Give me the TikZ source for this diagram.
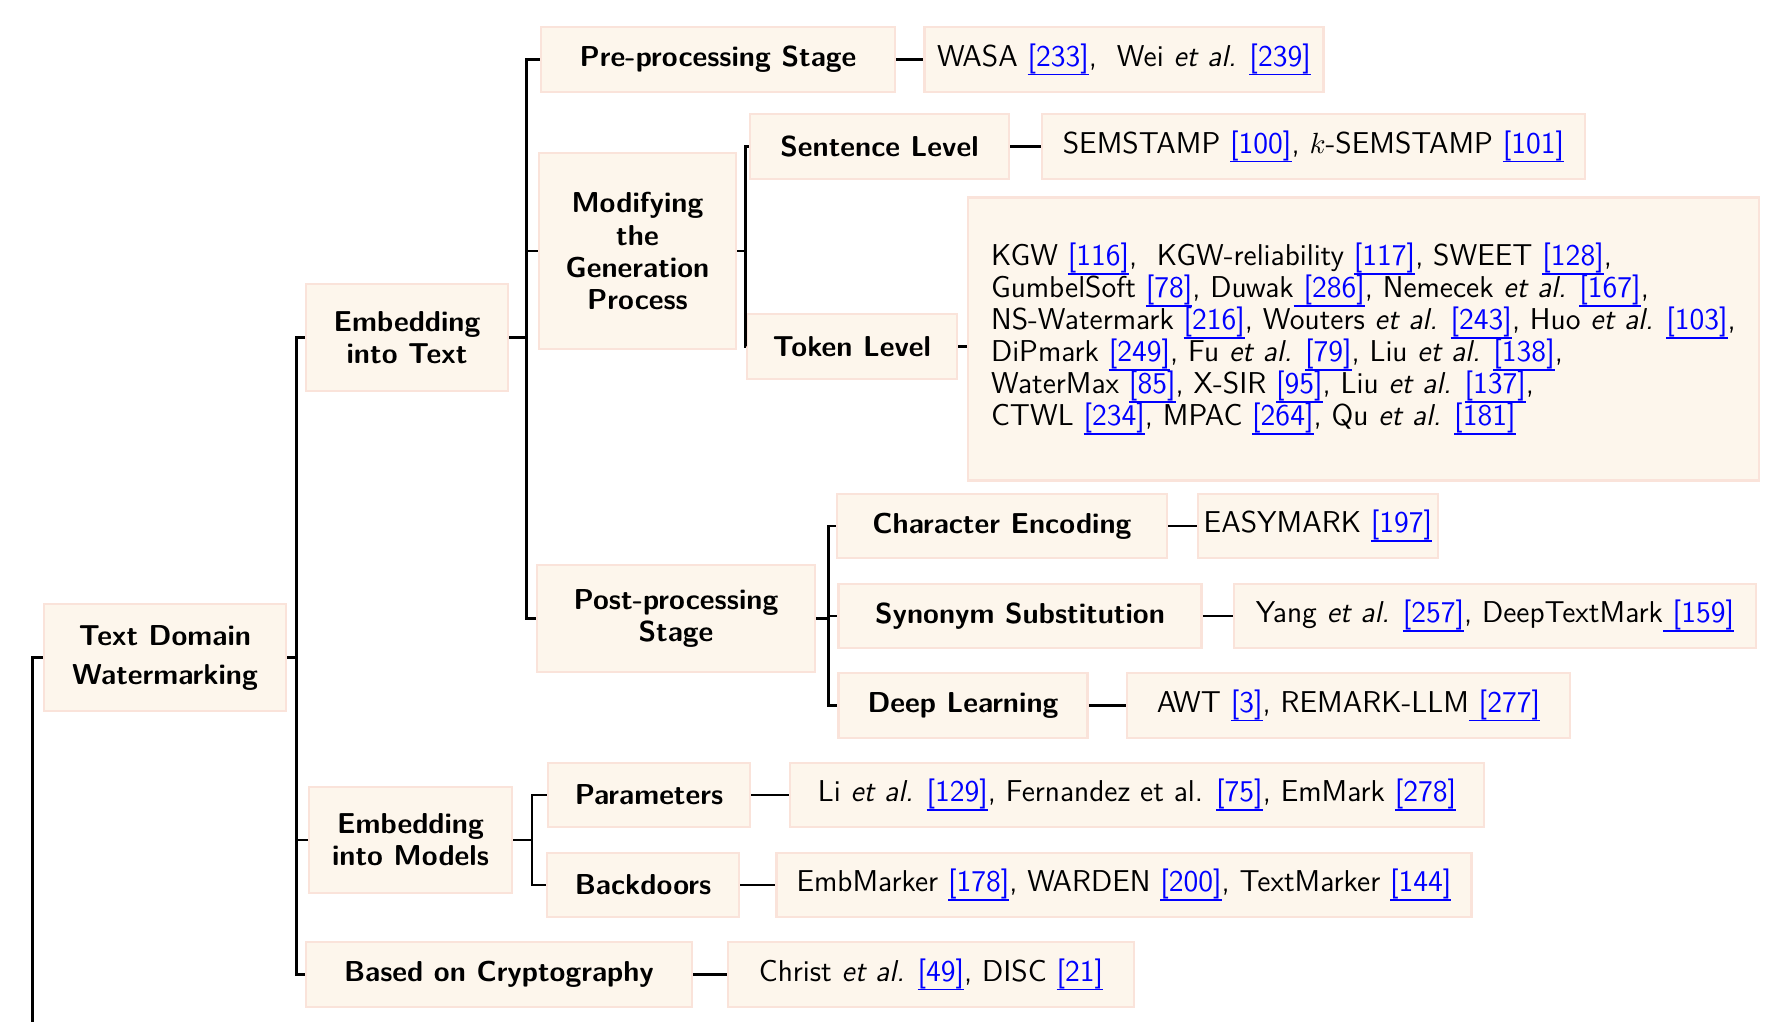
\documentclass[tikz,border=0pt]{standalone}
\usepackage{xcolor}
\definecolor{boxfill}{HTML}{FDF6EC}
\definecolor{boxdraw}{HTML}{FAE3DA}
\newcommand{\ulbox}[1]{\setbox0\hbox{#1}\rlap{\rule[\dimexpr-\dp0-0.45pt\relax]{\wd0}{0.45pt}}\box0}
\newcommand{\rf}[1]{\textcolor{blue}{\ulbox{[#1]}}}
\newcommand{\rfs}[1]{\textcolor{blue}{\ulbox{\ [#1]}}}
\newcommand{\ea}{\textit{et al.}}
\newcommand{\tightlines}{\lineskiplimit=-20pt\relax}
\tikzset{
  box/.style={draw=boxdraw, fill=boxfill, line width=1.1pt, inner sep=0pt, align=center},
  lab/.style={box, font=\sffamily\bfseries\fontsize{10.8}{12}\selectfont},
  refs/.style={box, font=\sffamily\fontsize{11.3}{12}\selectfont\tightlines},
  sz/.style 2 args={minimum width=#1*0.375pt, minimum height=#2*0.375pt},
  conn/.style={line width=0.8pt, black},
}
\begin{document}
\begin{tikzpicture}[x=0.375pt, y=-0.375pt]
\useasboundingbox (0,0) rectangle (1788,1022);
% level 0
\node[lab, sz={242}{107}] (root) at (165,657.5) {Text Domain\\[2.6pt]Watermarking};
% level 1
\node[lab, sz={202}{107}] (emtext) at (407,337.5) {Embedding\\into Text};
\node[lab, sz={203}{106}] (emmodel) at (410.5,840) {Embedding\\into Models};
\node[lab, sz={386}{65}] (crypto) at (499,974.5) {Based on Cryptography};
% level 2 (text)
\node[lab, sz={354}{65}] (pre) at (718,59.5) {Pre-processing Stage};
\node[lab, sz={197}{196}] (modify) at (637.5,251) {Modifying\\the\\Generation\\Process};
\node[lab, sz={278}{107}] (post) at (676,618.5) {Post-processing\\Stage};
% level 3
\node[lab, sz={259}{65}] (sentence) at (879.5,146.5) {Sentence Level};
\node[lab, sz={210}{65}] (token) at (852,346.5) {Token Level};
\node[lab, sz={330}{64}] (charenc) at (1002,526) {Character Encoding};
\node[lab, sz={363}{64}] (syn) at (1020,616) {Synonym Substitution};
\node[lab, sz={249}{65}] (deep) at (963,705.5) {Deep Learning};
\node[lab, sz={202}{64}] (params) at (649,795) {Parameters};
\node[lab, sz={192}{64}] (backdoors) at (643,885) {Backdoors};
% references
\node[refs, sz={399}{65}] (prerefs) at (1124,59.5) {WASA \rf{233},~\ Wei \ea{} \rf{239}};
\node[refs, sz={543}{65}] (sentrefs) at (1313.5,146.5) {SEMSTAMP \rf{100}, $k$-SEMSTAMP \rf{101}};
\node[refs, sz={791}{283}, align=left] (tokrefs) at (1363.5,339) {KGW \rf{116},~\ KGW-reliability \rf{117}, SWEET \rf{128},\\
GumbelSoft \rf{78}, Duwak\rfs{286}, Nemecek \ea{} \rf{167},\\
NS-Watermark \rf{216}, Wouters \ea{} \rf{243}, Huo \ea{} \rf{103},\\
DiPmark \rf{249}, Fu \ea{} \rf{79}, Liu \ea{} \rf{138},\\
WaterMax \rf{85}, X-SIR \rf{95}, Liu \ea{} \rf{137},\\
CTWL \rf{234}, MPAC \rf{264}, Qu \ea{} \rf{181}};
\node[refs, sz={240}{64}] (easy) at (1318,526) {EASYMARK \rf{197}};
\node[refs, sz={522}{64}] (yang) at (1495,616) {Yang \ea{} \rf{257}, DeepTextMark\rfs{159}};
\node[refs, sz={443}{65}] (awt) at (1348.5,705.5) {AWT \rf{3}, REMARK-LLM\rfs{277}};
\node[refs, sz={694}{64}] (li) at (1137,795) {Li \ea{} \rf{129}, Fernandez et al. \rf{75}, EmMark \rf{278}};
\node[refs, sz={695}{64}] (emb) at (1124,885) {EmbMarker \rf{178}, WARDEN \rf{200}, TextMarker \rf{144}};
\node[refs, sz={406}{65}] (christ) at (931,974.5) {Christ \ea{} \rf{49}, DISC \rf{21}};
% connectors
\draw[conn] (root.west) -- ++(-10,0) -- ++(0,420);
\foreach \c in {emtext,emmodel,crypto} \draw[conn] (root.east) -- ++(9,0) |- (\c.west);
\foreach \c in {pre,modify,post} \draw[conn] (emtext.east) -- ++(17,0) |- (\c.west);
\foreach \c in {sentence,token} \draw[conn] (modify.east) -- ++(8,0) |- (\c.west);
\foreach \c in {charenc,syn,deep} \draw[conn] (post.east) -- ++(12,0) |- (\c.west);
\foreach \c in {params,backdoors} \draw[conn] (emmodel.east) -- ++(18.5,0) |- (\c.west);
\draw[conn] (pre.east) -- (prerefs.west);
\draw[conn] (sentence.east) -- (sentrefs.west);
\draw[conn] (token.east) -- (token.east -| tokrefs.west);
\draw[conn] (charenc.east) -- (easy.west);
\draw[conn] (syn.east) -- (yang.west);
\draw[conn] (deep.east) -- (awt.west);
\draw[conn] (params.east) -- (li.west);
\draw[conn] (backdoors.east) -- (emb.west);
\draw[conn] (crypto.east) -- (christ.west);
\end{tikzpicture}
\end{document}
